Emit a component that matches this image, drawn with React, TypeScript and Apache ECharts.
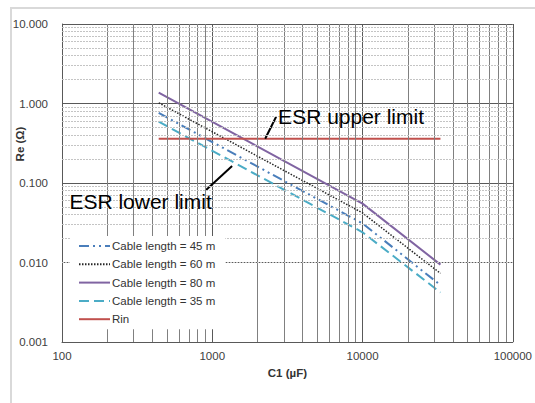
import { useEffect, useRef } from "react";
import * as echarts from "echarts";

// Capacitance C1 (µF) sample points
const capacitance = [440, 10000, 33000];
// Re (Ω) per cable length
const cable45 = [0.76, 0.031, 0.0052];
const cable60 = [1.02, 0.042, 0.0073];
const cable80 = [1.37, 0.055, 0.0094];
const cable35 = [0.59, 0.024, 0.0042];
// Rin limit line
const rinX = [440, 33000];
const rinY = [0.36, 0.36];

const seriesNames = [
  "Cable length = 45 m",
  "Cable length = 60 m",
  "Cable length = 80 m",
  "Cable length = 35 m",
  "Rin",
];

// axis ranges / gridline positions
const xRange = [100, 100000];
const yRange = [0.001, 10];
const xDecades = [100, 1000, 10000];
const yDecades = [0.001, 0.01, 0.1, 1];
const minorSteps = [2, 3, 4, 5, 6, 7, 8, 9];

// annotation pointers (data coordinates)
const upperPointer = [
  [2250, 0.36],
  [2660, 0.68],
];
const lowerPointer = [
  [1355, 0.164],
  [905, 0.081],
];
const upperText = "ESR upper limit";
const lowerText = "ESR lower limit";

const FONT = "'Liberation Sans', Arial, sans-serif";

export default function App() {
  const ref = useRef<HTMLDivElement>(null);

  useEffect(() => {
    if (!ref.current) return;
    const chart = echarts.init(ref.current, undefined, { renderer: "svg" });

    const zip = (xs: number[], ys: number[]) => xs.map((x, i) => [x, ys[i]]);
    const minorX: number[] = [];
    xDecades.forEach((d) => minorSteps.forEach((m) => minorX.push(d * m)));
    const minorY: number[] = [];
    yDecades.forEach((d) => minorSteps.forEach((m) => minorY.push(d * m)));

    chart.setOption({
      animation: false,
      backgroundColor: "#ffffff",
      textStyle: { fontFamily: FONT },
      grid: { left: 62, right: 17, top: 24, bottom: 61, containLabel: false },
      legend: {
        data: seriesNames,
        orient: "vertical",
        left: 70,
        top: 236,
        width: 156,
        padding: [4, 10, 4, 8],
        itemWidth: 31,
        itemHeight: 12,
        itemGap: 6.3,
        backgroundColor: "#ffffff",
        itemStyle: { opacity: 0 },
        textStyle: { fontSize: 11.5, color: "#333333", fontFamily: FONT, padding: [0, 0, 0, -3] },
        z: 10,
      },
      xAxis: {
        type: "log",
        logBase: 10,
        min: xRange[0],
        max: xRange[1],
        name: "C1 (µF)",
        nameLocation: "middle",
        nameGap: 23,
        nameTextStyle: { fontSize: 11.5, fontWeight: "bold", color: "#333333", fontFamily: FONT },
        axisLine: { show: true, lineStyle: { color: "#595959", width: 1 } },
        axisTick: { show: false },
        axisLabel: {
          fontSize: 11.5,
          color: "#404040",
          margin: 8,
          fontFamily: FONT,
          formatter: (v: number) => String(Math.round(v)),
        },
        splitLine: { show: true, lineStyle: { color: "#595959", width: 1 } },
      },
      yAxis: {
        type: "log",
        logBase: 10,
        min: yRange[0],
        max: yRange[1],
        axisLine: { show: true, lineStyle: { color: "#595959", width: 1 } },
        axisTick: { show: false },
        axisLabel: {
          fontSize: 11.5,
          color: "#404040",
          margin: 14,
          fontFamily: FONT,
          formatter: (v: number) => v.toFixed(3),
        },
        splitLine: { show: true, lineStyle: { color: "#595959", width: 1 } },
      },
      series: [
        {
          name: "__gridMinor",
          type: "line",
          data: [],
          silent: true,
          z: 1,
          markLine: {
            silent: true,
            symbol: "none",
            label: { show: false },
            animation: false,
            data: [
              ...minorX.map((x) => ({
                xAxis: x,
                lineStyle: { color: "#808080", width: 1, type: "solid" },
              })),
              ...minorY.map((y) => ({
                yAxis: y,
                lineStyle: { color: "#c4c4c4", width: 1, type: [2, 1] },
              })),
            ],
          },
        },
        {
          name: seriesNames[0],
          type: "line",
          data: zip(capacitance, cable45),
          showSymbol: false,
          symbol: "none",
          z: 3,
          itemStyle: { color: "#4a7ebb" },
          lineStyle: { color: "#4a7ebb", width: 2, type: [10, 4, 2, 4, 2, 4] },
        },
        {
          name: seriesNames[1],
          type: "line",
          data: zip(capacitance, cable60),
          showSymbol: false,
          symbol: "none",
          z: 3,
          itemStyle: { color: "#262626" },
          lineStyle: { color: "#262626", width: 1.5, type: [1.5, 1.5] },
        },
        {
          name: seriesNames[2],
          type: "line",
          data: zip(capacitance, cable80),
          showSymbol: false,
          symbol: "none",
          z: 3,
          itemStyle: { color: "#8064a2" },
          lineStyle: { color: "#8064a2", width: 2, type: "solid" },
        },
        {
          name: seriesNames[3],
          type: "line",
          data: zip(capacitance, cable35),
          showSymbol: false,
          symbol: "none",
          z: 3,
          itemStyle: { color: "#4bacc6" },
          lineStyle: { color: "#4bacc6", width: 2, type: [10, 5] },
        },
        {
          name: seriesNames[4],
          type: "line",
          data: zip(rinX, rinY),
          showSymbol: false,
          symbol: "none",
          z: 3,
          itemStyle: { color: "#c0504d" },
          lineStyle: { color: "#c0504d", width: 2, type: "solid" },
        },
        {
          name: "__upperPointer",
          type: "line",
          data: upperPointer,
          showSymbol: false,
          symbol: "none",
          silent: true,
          z: 4,
          lineStyle: { color: "#000000", width: 2 },
        },
        {
          name: "__lowerPointer",
          type: "line",
          data: lowerPointer,
          showSymbol: false,
          symbol: "none",
          silent: true,
          z: 4,
          lineStyle: { color: "#000000", width: 2 },
        },
      ],
    });

    const up = chart.convertToPixel({ gridIndex: 0 }, upperPointer[1]) as number[];
    const lo = chart.convertToPixel({ gridIndex: 0 }, lowerPointer[1]) as number[];

    chart.setOption({
      graphic: [
        {
          type: "rect",
          shape: { x: 11, y: 8, width: 600, height: 500 },
          style: { fill: "none", stroke: "#d9d9d9", lineWidth: 2 },
          silent: true,
          z: -10,
        },
        {
          type: "text",
          x: 20,
          y: 144,
          rotation: Math.PI / 2,
          style: {
            text: "Re (Ω)",
            fontSize: 11.5,
            fontWeight: "bold",
            fill: "#333333",
            fontFamily: FONT,
            align: "center",
            verticalAlign: "middle",
          },
          z: 10,
        },
        {
          type: "text",
          x: up[0] + 2,
          y: up[1],
          style: {
            text: upperText,
            fontSize: 21,
            fill: "#000000",
            fontFamily: FONT,
            align: "left",
            verticalAlign: "middle",
          },
          z: 10,
        },
        {
          type: "text",
          x: lo[0] + 6,
          y: lo[1] + 11,
          style: {
            text: lowerText,
            fontSize: 21,
            fill: "#000000",
            fontFamily: FONT,
            align: "right",
            verticalAlign: "middle",
          },
          z: 10,
        },
      ],
    });

    return () => chart.dispose();
  }, []);

  return (
    <div
      ref={ref}
      style={{ position: "absolute", left: 0, top: 0, width: 535, height: 403, background: "#ffffff" }}
    />
  );
}
